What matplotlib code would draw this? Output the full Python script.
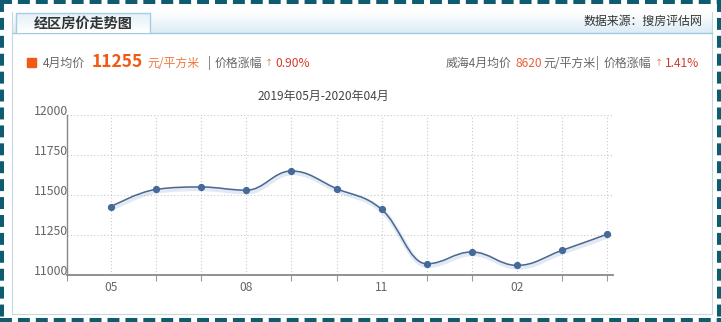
import numpy as np
import matplotlib
matplotlib.use('Agg')
import matplotlib.pyplot as plt
import matplotlib.patheffects as pe
from matplotlib.path import Path
from matplotlib.patches import PathPatch, Rectangle
from matplotlib.colors import LinearSegmentedColormap

plt.rcParams['font.family'] = ['Noto Sans CJK SC', 'DejaVu Sans']

# ====== DATA ======
months = ['05', '06', '07', '08', '09', '10', '11', '12', '01', '02', '03', '04']
prices = [11427, 11535, 11550, 11530, 11650, 11540, 11410, 11070, 11144, 11060, 11154, 11255]
shown_labels = ['05', '08', '11', '02']
y_ticks = [11000, 11250, 11500, 11750, 12000]

title_text = '经区房价走势图'
source_text = '数据来源：搜房评估网'
period_text = '2019年05月-2020年04月'
avg_price = '11255'
avg_change = '0.90%'
city_price = '8620'
city_change = '1.41%'

# ====== COLOURS ======
border_col = '#0f5c70'
line_col = '#4a6891'
orange = '#f05a14'
red = '#d23a2a'
gray = '#666666'


def spline_path(xs, ys):
    # highcharts-like spline: control points at 40% toward neighbours
    n = len(xs)
    left = [(xs[i], ys[i]) for i in range(n)]
    right = [(xs[i], ys[i]) for i in range(n)]
    for i in range(1, n - 1):
        x, y = xs[i], ys[i]
        lx, ly = xs[i - 1], ys[i - 1]
        nx, ny = xs[i + 1], ys[i + 1]
        lcx = (1.5 * x + lx) / 2.5; lcy = (1.5 * y + ly) / 2.5
        rcx = (1.5 * x + nx) / 2.5; rcy = (1.5 * y + ny) / 2.5
        corr = ((rcy - lcy) * (rcx - x)) / (rcx - lcx) + y - rcy
        lcy += corr; rcy += corr
        if lcy > ly and lcy > y:
            lcy = max(ly, y); rcy = 2 * y - lcy
        elif lcy < ly and lcy < y:
            lcy = min(ly, y); rcy = 2 * y - lcy
        if rcy > ny and rcy > y:
            rcy = max(ny, y); lcy = 2 * y - rcy
        elif rcy < ny and rcy < y:
            rcy = min(ny, y); lcy = 2 * y - rcy
        left[i] = (lcx, lcy); right[i] = (rcx, rcy)
    verts = [(xs[0], ys[0])]
    codes = [Path.MOVETO]
    for i in range(1, n):
        verts += [right[i - 1], left[i], (xs[i], ys[i])]
        codes += [Path.CURVE4] * 3
    return Path(verts, codes)


W, H = 721, 322
fig = plt.figure(figsize=(W / 100, H / 100), dpi=100)
fig.patch.set_facecolor('white')

# ====== FRAME (pixel coordinates) ======
bg = fig.add_axes([0, 0, 1, 1])
bg.set_xlim(0, W); bg.set_ylim(H, 0); bg.axis('off')

# panel border
bg.add_patch(Rectangle((12, 12), 700, 302, fill=False, ec='#c6d7df', lw=0.8))

# header band gradient
grad = np.linspace(0, 1, 50).reshape(-1, 1)
cm_head = LinearSegmentedColormap.from_list('h', ['#ffffff', '#dcecf6'])
bg.imshow(grad, cmap=cm_head, extent=(12.5, 711.5, 33, 12.5), aspect='auto', zorder=1)
bg.plot([12.5, 711.5], [33, 33], color='#9fcbe0', lw=1, zorder=2)

# tab
cm_tab = LinearSegmentedColormap.from_list('t', ['#e4f1f9', '#ffffff'])
bg.imshow(grad, cmap=cm_tab, extent=(16, 150, 33, 13), aspect='auto', zorder=3)
bg.plot([16, 16, 150, 150], [33, 13, 13, 33], color='#a6cde0', lw=1, zorder=4)
bg.text(83, 23.5, title_text, ha='center', va='center', fontsize=10.2,
        fontweight='bold', color='#333333', zorder=5)
bg.text(702, 21.5, source_text, ha='right', va='center', fontsize=8.6, color='#333333', zorder=5)

# dashed outer border
lw = 2.9
dash = (0, (8.6 / lw, 4.3 / lw))
for xs_, ys_ in [([0, W], [2, 2]), ([0, W], [H - 2, H - 2]), ([2, 2], [0, H]), ([W - 2, W - 2], [0, H])]:
    bg.plot(xs_, ys_, color=border_col, lw=lw, linestyle=dash, solid_capstyle='butt',
            dash_capstyle='butt', zorder=6)

# info line
ty = 63
arrow_font = ['DejaVu Sans']
bg.add_patch(Rectangle((27, 58), 9, 9, color=orange, zorder=5))
bg.text(43, ty, '4月均价', ha='left', va='center', fontsize=8.6, color=gray)
bg.text(92, ty - 1, avg_price, ha='left', va='center', fontsize=12.5, fontweight='bold', color=orange)
bg.text(147, ty, '元/平方米', ha='left', va='center', fontsize=8.6, color='#f07a40')
bg.text(208, ty, '|', ha='left', va='center', fontsize=8.6, color=gray)
bg.text(215, ty, '价格涨幅', ha='left', va='center', fontsize=8.6, color=gray)
bg.text(265, ty, '↑', ha='left', va='center', fontsize=7.0, color='#e58a80', family=arrow_font)
bg.text(275, ty, avg_change, ha='left', va='center', fontsize=8.6, color=red)

bg.text(446, ty, '威海4月均价', ha='left', va='center', fontsize=8.6, color=gray)
bg.text(515, ty, city_price, ha='left', va='center', fontsize=8.6, color='#e8603c')
bg.text(543, ty, '元/平方米', ha='left', va='center', fontsize=8.6, color=gray)
bg.text(596, ty, '|', ha='left', va='center', fontsize=8.6, color=gray)
bg.text(604, ty, '价格涨幅', ha='left', va='center', fontsize=8.6, color=gray)
bg.text(655, ty, '↑', ha='left', va='center', fontsize=7.0, color='#e58a80', family=arrow_font)
bg.text(665, ty, city_change, ha='left', va='center', fontsize=8.6, color=red)

bg.text(323, 96, period_text, ha='center', va='center', fontsize=8.6, color='#444444')

# ====== CHART ======
x0, x1, y0, y1 = 67, 613, 115, 275
ax = fig.add_axes([x0 / W, 1 - y1 / H, (x1 - x0) / W, (y1 - y0) / H])
ax.patch.set_alpha(0)

idx = np.arange(len(months))
ax.set_xlim(-0.975, 11.13)
ax.set_ylim(11000, 12000)

path = spline_path(idx.astype(float), np.array(prices, dtype=float))
ax.add_patch(PathPatch(path, fill=False, ec=line_col, lw=1.1, zorder=3,
                       path_effects=[pe.SimpleLineShadow(offset=(0.6, -1.3), shadow_color='#7f9fca',
                                                         alpha=0.22, linewidth=3.5),
                                     pe.Normal()]))
ax.plot(idx, prices, 'o', ms=4.2, color='#45699a', zorder=4, clip_on=False)

# ticks
label_pos = [months.index(m) for m in shown_labels]
minor_pos = [-0.975] + [i for i in idx if i not in label_pos]
ax.set_xticks(label_pos)
ax.set_xticklabels(shown_labels)
ax.set_xticks(minor_pos, minor=True)
ax.tick_params(axis='x', which='major', length=0, pad=4.5, labelsize=8.6, labelcolor=gray)
ax.tick_params(axis='x', which='minor', length=4, width=0.8, color='#999999')

ax.set_yticks(y_ticks)
ax.set_yticklabels([str(v) for v in y_ticks])
ax.tick_params(axis='y', length=0, pad=-1, labelsize=8.8, labelcolor=gray)
for tl in ax.get_yticklabels():
    tl.set_va('baseline')

# grid
for i in idx:
    ax.axvline(i, color='#c8c8c8', lw=0.8, ls=(0, (1, 2)), zorder=1)
for v in y_ticks[1:]:
    ax.axhline(v, color='#c8c8c8', lw=0.8, ls=(0, (1, 2)), zorder=1)

for s in ['top', 'right']:
    ax.spines[s].set_visible(False)
ax.spines['left'].set_color('#888888')
ax.spines['left'].set_linewidth(1.0)
ax.spines['bottom'].set_color('#888888')
ax.spines['bottom'].set_linewidth(1.3)

fig.savefig('out.png', dpi=100)
